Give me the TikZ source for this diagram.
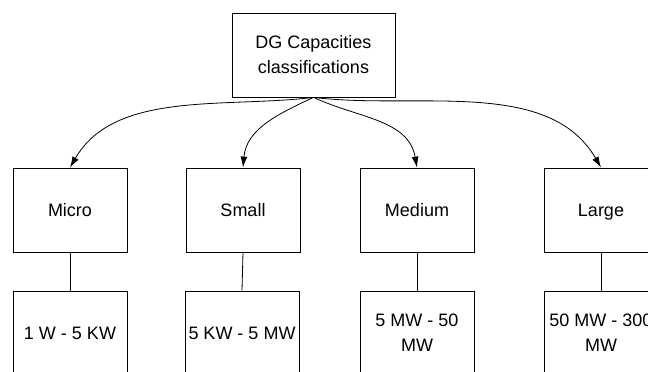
\documentclass[tikz,border=0pt]{standalone}
\usepackage{fontspec}
\setmainfont{Liberation Sans}
\usetikzlibrary{arrows.meta}
\begin{document}
\begin{tikzpicture}[x=1pt,y=1pt,
    box/.style={draw, line width=0.8pt, minimum width=114pt, minimum height=84pt,
        align=center, inner sep=0pt, font=\fontsize{18}{25}\selectfont},
    class/.style={box, text depth=0pt},
    link/.style={line width=0.8pt, -{Latex[length=11pt,width=7pt]}}]
    \useasboundingbox (0,0) rectangle (648,372);
    \node[box, minimum width=163pt] (dg) at (313.5,317) {DG Capacities\\classifications};
    % classes
    \node[class] (micro) at (70,162) {Micro};
    \node[class] (small) at (243,162) {Small};
    \node[class] (medium) at (417,162) {Medium};
    \node[class] (large) at (601,162) {Large};
    % ranges
    \node[box] (microR) at (70,39) {1 W - 5 KW};
    \node[box] (smallR) at (242,39) {5 KW - 5 MW};
    \node[box] (mediumR) at (417,39) {5 MW - 50\\MW};
    \node[box] (largeR) at (601,39) {50 MW - 300\\MW};
    \draw[link] (dg.south) to[out=187,in=60,looseness=0.9] (micro.north);
    \draw[link] (dg.south) to[out=205,in=85] (small.north);
    \draw[link] (dg.south) to[out=-25,in=100] (medium.north);
    \draw[link] (dg.south) to[out=-7,in=120,looseness=0.9] (large.north);
    \foreach \c in {micro,small,medium,large}
        \draw[line width=0.8pt] (\c.south) -- (\c R.north);
\end{tikzpicture}
\end{document}
